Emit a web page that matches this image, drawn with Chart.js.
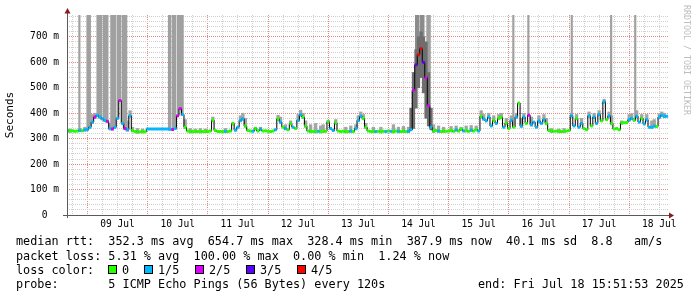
<!DOCTYPE html>
<html lang="en">
<head>
<meta charset="UTF-8" />
<title>SmokePing - 10 days</title>
<style>
  body {
    margin: 0;
    background: #fff;
  }
  #wrap {
    position: relative;
    width: 697px;
    height: 297px;
    overflow: hidden;
    background: #fff;
  }
  canvas {
    position: absolute;
    left: 0;
    top: 0;
  }
  .txt {
    position: absolute;
    font-family: 'DejaVu Sans Mono', monospace;
    font-size: 11.8px;
    line-height: 14px;
    color: #000;
    white-space: pre;
  }
  .box {
    position: absolute;
    width: 7px;
    height: 7px;
    border: 1px solid #000;
  }
  #credit {
    position: absolute;
    left: 682px;
    top: 5px;
    writing-mode: vertical-rl;
    font-family: 'DejaVu Sans Mono', monospace;
    font-size: 8.3px;
    line-height: 10px;
    color: #bdbdbd;
    white-space: pre;
  }
</style>
</head>
<body>

<div id="wrap">
  <canvas id="rttChart" width="697" height="297"></canvas>
  <div class="txt" style="left:16px;top:234px">median rtt:  352.3 ms avg  654.7 ms max  328.4 ms min  387.9 ms now  40.1 ms sd  8.8   am/s</div>
  <div class="txt" style="left:16px;top:249px">packet loss: 5.31 % avg  100.00 % max  0.00 % min  1.24 % now</div>
  <div class="txt" style="left:16px;top:263px">loss color:</div>
  <div id="lossLegend"></div>
  <div class="txt" style="left:16px;top:277px">probe:       5 ICMP Echo Pings (56 Bytes) every 120s</div>
  <div class="txt" style="left:478px;top:277px">end: Fri Jul 18 15:51:53 2025</div>
  <div id="credit">RRDTOOL / TOBI OETIKER</div>
</div>

<script src="https://cdn.jsdelivr.net/npm/chart.js"></script>
<script>
// hours are counted from 08 Jul 00:00, one sample per hour
const startHour = 16;
const endHour = 255.865;          // Fri Jul 18 15:51:53
const graphTop = 786;             // upper limit of the graph (ms)

const dayLabels = ['08 Jul', '09 Jul', '10 Jul', '11 Jul', '12 Jul', '13 Jul',
                   '14 Jul', '15 Jul', '16 Jul', '17 Jul', '18 Jul'];

const lossColors = ['#26ff00', '#00b8ff', '#dd00ff', '#5e00ff', '#ff0000'];
const lossLabels = ['0', '1/5', '2/5', '3/5', '4/5'];

// median rtt (ms)
const medianRtt = [
  // 08 Jul 16-23
  332, 330, 331, 329, 330, 333, 331, 335,
  // 09 Jul
  336, 345, 365, 385, 392, 385, 378, 372, 368, 340, 338, 345, 380, 450, 360, 340, 335, 390, 332, 328, 327, 327, 328, 327,
  // 10 Jul
  338, 338, 338, 338, 338, 338, 338, 338, 338, 337, 336, 340, 390, 418, 395, 345, 330, 328, 328, 329, 328, 328, 328, 329,
  // 11 Jul
  328, 330, 372, 332, 328, 328, 328, 329, 328, 330, 360, 333, 345, 372, 378, 350, 332, 330, 329, 340, 330, 338, 330, 331,
  // 12 Jul
  329, 328, 330, 335, 378, 365, 345, 340, 335, 360, 345, 340, 372, 394, 385, 350, 330, 329, 328, 328, 329, 328, 330, 329,
  // 13 Jul
  366, 340, 332, 362, 330, 328, 329, 328, 328, 330, 328, 340, 372, 388, 380, 345, 330, 328, 329, 328, 329, 328, 329, 328,
  // 14 Jul
  330, 329, 328, 330, 329, 328, 330, 328, 329, 335, 490, 590, 630, 654, 600, 540, 430, 345, 330, 332, 330, 328, 330, 329,
  // 15 Jul
  330, 332, 329, 335, 330, 338, 330, 332, 329, 334, 330, 336, 330, 388, 378, 370, 385, 350, 372, 360, 380, 385, 345, 362,
  // 16 Jul
  340, 372, 345, 385, 440, 350, 385, 360, 392, 355, 365, 345, 370, 360, 375, 360, 332, 330, 329, 330, 329, 328, 329, 330,
  // 17 Jul
  332, 390, 350, 380, 345, 360, 340, 335, 390, 350, 385, 360, 395, 370, 445, 375, 390, 360, 338, 340, 335, 362, 363, 363,
  // 18 Jul 00-15
  375, 380, 372, 388, 365, 380, 358, 375, 345, 345, 350, 348, 385, 392, 388, 388
];

// lost pings out of 5 for each sample
const lossCount = [
  1, 0, 0, 0, 0, 1, 0, 1,
  1, 1, 1, 2, 1, 1, 1, 1, 2, 1, 2, 1, 1, 2, 1, 2, 1, 1, 0, 0, 0, 0, 0, 0,
  1, 1, 1, 1, 1, 1, 1, 1, 1, 1, 2, 1, 2, 2, 1, 0, 0, 0, 0, 0, 0, 0, 0, 0,
  0, 0, 0, 0, 0, 0, 0, 1, 0, 0, 0, 1, 1, 1, 1, 0, 0, 0, 1, 0, 0, 1, 0, 0,
  0, 0, 0, 1, 0, 1, 0, 1, 0, 0, 1, 0, 1, 1, 0, 0, 0, 0, 0, 0, 1, 0, 0, 0,
  0, 1, 1, 0, 0, 0, 0, 0, 0, 1, 0, 1, 1, 1, 0, 0, 0, 0, 0, 1, 0, 0, 0, 1,
  0, 1, 0, 0, 1, 0, 0, 0, 1, 1, 2, 3, 4, 4, 3, 2, 2, 1, 0, 0, 1, 0, 0, 0,
  0, 0, 0, 1, 0, 0, 1, 0, 0, 1, 0, 0, 1, 0, 1, 1, 1, 1, 0, 1, 0, 0, 1, 0,
  0, 1, 0, 1, 0, 1, 1, 0, 2, 1, 1, 1, 1, 1, 1, 0, 0, 0, 0, 0, 0, 0, 0, 0,
  0, 1, 1, 0, 1, 1, 0, 0, 1, 0, 1, 1, 1, 0, 1, 0, 1, 0, 0, 0, 0, 0, 0, 0,
  1, 1, 0, 1, 1, 0, 1, 1, 1, 1, 1, 0, 1, 1, 1, 1
];

// smoke: highest ping where it rises clearly above the median [hour, ms]
const smokeTop = [
  [17, 338], [21, 340], [23, 345], [26, 395], [27, 400], [33, 360], [40, 370], [41, 410], [42, 345],
  [44, 340], [46, 338], [63, 375], [65, 340], [67, 338], [69, 340], [71, 338],
  [74, 385], [79, 340], [82, 362], [85, 390], [86, 400], [87, 380], [91, 345], [93, 345],
  [100, 392], [101, 385], [103, 355], [105, 370], [108, 395], [109, 412], [110, 400], [111, 370],
  [113, 355], [115, 360], [117, 350], [118, 355],
  [120, 372], [123, 375], [127, 345], [129, 350], [131, 355], [132, 390], [133, 405], [134, 395],
  [135, 360], [138, 345], [141, 345], [146, 355], [148, 345], [150, 348], [152, 345],
  [162, 355], [164, 350], [166, 345], [169, 348], [171, 350], [173, 345], [175, 350], [177, 352], [179, 350],
  [181, 410], [182, 395], [184, 400], [186, 390], [188, 395], [189, 400], [191, 380],
  [193, 390], [195, 400], [197, 380], [198, 400], [201, 385], [204, 390], [206, 395], [207, 380],
  [209, 340], [212, 338], [214, 340],
  [217, 400], [219, 395], [221, 380], [224, 405], [226, 400], [228, 410], [230, 455], [232, 405],
  [233, 390], [237, 370], [240, 395], [241, 398], [243, 410], [245, 395], [247, 395], [249, 370],
  [250, 375], [252, 398], [253, 405], [254, 400]
];

// dense smoke around the 14 Jul peak [hour, low ms, high ms]
const peakSmoke = [
  [153, 335, 420], [154, 340, 560], [155, 420, 650], [156, 500, 700], [157, 540, 720],
  [158, 480, 700], [159, 380, 680], [160, 350, 560], [161, 335, 420]
];

// half-hour slots where the ping spread reaches the top of the graph
const spikeHours = [
  24, 24.5, 25, 28, 28.5, 29, 29.5, 30.5, 31, 31.5, 32, 33.5, 34, 34.5, 35,
  36, 36.5, 37, 38, 38.5, 39, 39.5,
  56.5, 57, 58, 58.5, 59, 60, 60.5, 61, 61.5, 62,
  159.5, 160, 160.5
];
const peakSpikeHours = [155, 155.5, 156, 157, 157.5, 158];
// single samples that reach the top
const thinSpikeHours = [20.8, 193.8, 199.8, 217.1, 232.8, 242.4];

const medianAt = h => medianRtt[Math.min(medianRtt.length - 1, Math.max(0, Math.round(h) - startHour))];

const RED_GRID = 'rgb(234, 135, 135)';
const GRAY_GRID = 'rgb(208, 208, 208)';

Chart.defaults.font.family = "'DejaVu Sans Mono', monospace";
Chart.defaults.color = '#000';

// axis lines with the little red arrows
const axisArrows = {
  id: 'axisArrows',
  afterDraw(chart) {
    const {ctx, chartArea: a} = chart;
    ctx.save();
    ctx.strokeStyle = '#5a5a5a';
    ctx.lineWidth = 1;
    ctx.beginPath();
    ctx.moveTo(a.left + 0.5, a.bottom + 3);
    ctx.lineTo(a.left + 0.5, a.top - 3);
    ctx.moveTo(a.left - 4, a.bottom + 0.5);
    ctx.lineTo(a.right + 1, a.bottom + 0.5);
    ctx.stroke();
    ctx.fillStyle = '#8b1a1a';
    ctx.beginPath();
    ctx.moveTo(a.left + 0.5, a.top - 7);
    ctx.lineTo(a.left - 2.5, a.top - 1.5);
    ctx.lineTo(a.left + 3.5, a.top - 1.5);
    ctx.closePath();
    ctx.fill();
    ctx.beginPath();
    ctx.moveTo(a.right + 5, a.bottom + 0.5);
    ctx.lineTo(a.right, a.bottom - 2.5);
    ctx.lineTo(a.right, a.bottom + 3.5);
    ctx.closePath();
    ctx.fill();
    ctx.restore();
  }
};

const ctx = document.getElementById('rttChart').getContext('2d');

new Chart(ctx, {
  type: 'line',
  data: {
    datasets: [
      {
        label: 'median',
        data: medianRtt.map((v, i) => ({x: startHour + i, y: v})),
        borderColor: '#000',
        borderWidth: 1,
        stepped: 'middle',
        pointStyle: 'line',
        pointRadius: 1.3,
        pointBorderWidth: 3,
        pointBorderColor: c => lossColors[lossCount[c.dataIndex]],
        pointBackgroundColor: c => lossColors[lossCount[c.dataIndex]],
        order: 0
      },
      {
        type: 'bar',
        label: 'peak smoke',
        data: peakSmoke.map(([h, lo, hi]) => ({x: h, y: [lo, hi]})),
        backgroundColor: '#6e6e6e',
        barThickness: 2.6,
        grouped: false,
        order: 1
      },
      {
        type: 'bar',
        label: 'peak spikes',
        data: peakSpikeHours.map(h => ({x: h, y: [medianAt(h), graphTop]})),
        backgroundColor: '#8c8c8c',
        barThickness: 1.35,
        grouped: false,
        order: 2
      },
      {
        type: 'bar',
        label: 'spikes',
        data: spikeHours.map(h => ({x: h, y: [medianAt(h) - 4, graphTop]})),
        backgroundColor: '#a0a0a0',
        barThickness: 1.35,
        grouped: false,
        order: 3
      },
      {
        type: 'bar',
        label: 'thin spikes',
        data: thinSpikeHours.map(h => ({x: h, y: [medianAt(h), graphTop]})),
        backgroundColor: '#a0a0a0',
        barThickness: 1.5,
        grouped: false,
        order: 3
      },
      {
        type: 'bar',
        label: 'smoke',
        data: smokeTop.map(([h, top]) => ({x: h, y: [medianAt(h) - 6, top]})),
        backgroundColor: '#a4a4a4',
        barThickness: 2.6,
        grouped: false,
        order: 4
      }
    ]
  },
  options: {
    responsive: false,
    animation: false,
    events: [],
    layout: {padding: {left: 0, top: 15, right: 28, bottom: 0}},
    plugins: {
      legend: {display: false},
      tooltip: {enabled: false}
    },
    scales: {
      x: {
        type: 'linear',
        min: endHour - 240,
        max: endHour,
        offset: false,
        afterFit: s => { s.height = 82; },
        afterBuildTicks: s => {
          const t = [];
          for (let h = 18; h <= 252; h += 6) t.push({value: h});
          s.ticks = t;
        },
        border: {display: false, dash: [1, 1]},
        grid: {
          offset: false,
          drawTicks: false,
          // ticks start at 18:00, so every 4th tick from index 1 is midnight
          color: c => (c.index % 4 === 1) ? RED_GRID : GRAY_GRID
        },
        ticks: {
          autoSkip: false,
          maxRotation: 0,
          padding: 4,
          font: {size: 9.6},
          callback: v => (v % 24 === 12) ? dayLabels[Math.floor(v / 24)] : ''
        }
      },
      y: {
        min: 0,
        max: graphTop,
        afterFit: s => { s.width = 67; },
        afterBuildTicks: s => {
          const t = [];
          for (let v = 0; v <= 780; v += 20) t.push({value: v});
          s.ticks = t;
        },
        border: {display: false, dash: [1, 1]},
        grid: {
          drawTicks: false,
          color: c => (c.index % 5 === 0) ? RED_GRID : GRAY_GRID
        },
        title: {
          display: true,
          text: 'Seconds',
          font: {size: 11},
          padding: {top: 4, bottom: 4}
        },
        ticks: {
          autoSkip: false,
          padding: 8,
          font: {size: 9.6},
          callback: v => v % 100 ? '' : (v === 0 ? '0  ' : v + ' m')
        }
      }
    }
  },
  plugins: [axisArrows]
});

// loss colour legend
const boxLeft = [108, 144, 195, 246, 297];
const legend = document.getElementById('lossLegend');
lossLabels.forEach((lab, i) => {
  const b = document.createElement('div');
  b.className = 'box';
  b.style.left = boxLeft[i] + 'px';
  b.style.top = '265px';
  b.style.background = lossColors[i];
  legend.appendChild(b);
  const t = document.createElement('div');
  t.className = 'txt';
  t.style.left = (boxLeft[i] + 14) + 'px';
  t.style.top = '263px';
  t.textContent = lab;
  legend.appendChild(t);
});
</script>

</body>
</html>
